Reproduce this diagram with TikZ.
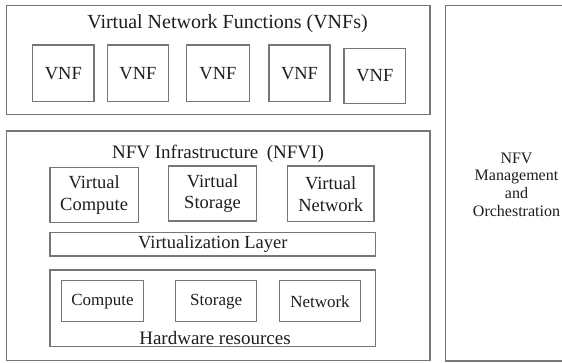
\documentclass[tikz,border=0pt]{standalone}
\usepackage{fontspec}
\setmainfont{Liberation Serif}
\definecolor{linegray}{RGB}{118,118,118}
\definecolor{txt}{RGB}{30,30,30}
\begin{document}
\begin{tikzpicture}[x=1bp,y=-1bp,
  box/.style={draw=linegray, line width=1.2bp, inner sep=0pt, text=txt, align=center},
  f20/.style={font=\fontsize{20bp}{24bp}\selectfont},
  f19/.style={font=\fontsize{19bp}{22bp}\selectfont},
  f18/.style={font=\fontsize{18.5bp}{21.7bp}\selectfont},
  f17/.style={font=\fontsize{17bp}{20bp}\selectfont},
  f16/.style={font=\fontsize{16bp}{17.7bp}\selectfont},
  lbl/.style={text=txt, inner sep=0pt, anchor=base}]
\useasboundingbox (0,0) rectangle (562,362);
\fill[white] (0,0) rectangle (562,362);

% VNFs block
\node[box, minimum width=423.3bp, minimum height=109bp] (vnfs) at (218.35,60.2) {};
\node[lbl, f20] (vnftitle) at (227.5,28.7) {Virtual Network Functions (VNFs)};
\node[box, f18, minimum width=61.3bp, minimum height=56.7bp] (v1) at (63.35,73.35) {VNF};
\node[box, f18, minimum width=60.6bp, minimum height=56.7bp] (v2) at (138,73.35) {VNF};
\node[box, f18, minimum width=62.6bp, minimum height=56.7bp] (v3) at (218,73.35) {VNF};
\node[box, f18, minimum width=61bp, minimum height=56.7bp] (v4) at (299.5,73.35) {VNF};
\node[box, f18, minimum width=61.7bp, minimum height=55bp] (v5) at (374.85,75.8) {VNF};

% NFVI block
\node[box, minimum width=423.3bp, minimum height=229.7bp] (nfvi) at (218.35,245.85) {};
\node[lbl, f19] (nfvititle) at (218,158) {NFV Infrastructure\hspace{0.45em}(NFVI)};
\node[box, f18, minimum width=88.3bp, minimum height=55.4bp] (vc) at (94.15,195) {Virtual\\Compute};
\node[box, f18, minimum width=88.4bp, minimum height=55bp] (vs) at (212.5,193.5) {Virtual\\Storage};
\node[box, f18, minimum width=86.7bp, minimum height=55.7bp] (vn) at (330.65,193.85) {Virtual\\Network};
\node[box, f18, minimum width=325.7bp, minimum height=23.3bp] (vl) at (212.85,244.35) {Virtualization Layer};
\node[box, minimum width=325.7bp, minimum height=76.7bp] (hw) at (212.85,308.35) {};
\node[box, f17, minimum width=81.6bp, minimum height=41bp] (hc) at (102.5,301.2) {Compute};
\node[box, f17, minimum width=81bp, minimum height=41bp] (hs) at (216.2,301.2) {Storage};
\node[box, f17, minimum width=81.4bp, minimum height=41bp] (hn) at (320,301.2) {Network};
\node[lbl, f19] (hwlabel) at (215,344) {Hardware resources};

% MANO block (right edge beyond the picture)
\coordinate (m1) at (600,5.7);
\coordinate (m2) at (445.7,5.7);
\coordinate (m3) at (445.7,361);
\coordinate (m4) at (600,361);
\draw[linegray, line width=1.2bp] (m1) -- (m2) -- (m3) -- (m4);
\node[text=txt, inner sep=0pt, align=center, f16] (mano) at (516.5,184.5) {NFV\\Management\\and\\Orchestration};
\end{tikzpicture}
\end{document}
